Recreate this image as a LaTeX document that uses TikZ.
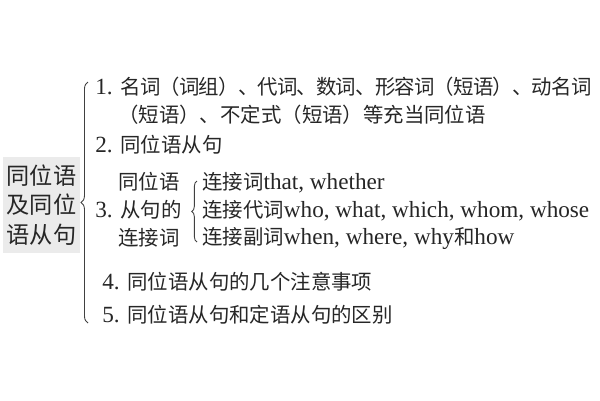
\documentclass[tikz,border=0pt]{standalone}
\usepackage{fontspec}
\setmainfont{Liberation Serif}
\newfontfamily\cjk[Scale=0.88]{Noto Sans CJK SC}
\newfontfamily\cjktight[Scale=0.88,LetterSpace=-4]{Noto Sans CJK SC}
\newcommand\zh[1]{{\cjk #1}}
\usetikzlibrary{decorations.pathreplacing}

\begin{document}
\begin{tikzpicture}
[x=0.02cm,y=-0.02cm
,lbl/.style={anchor=west,inner sep=0pt,text height=10.2pt,text depth=1.4pt,text=black!85}
,hd/.style={fill=black!8,text=black!85,align=center,inner sep=0pt,minimum width=1.54cm,minimum height=1.92cm,font=\fontsize{15}{16.7}\selectfont}
,br/.style={decorate,decoration={brace,amplitude=#1},line width=0.5pt,black!75}
,font=\fontsize{13.2}{16}\selectfont]
\useasboundingbox (0,0) rectangle (600,400);
\node[hd] (root) at (41.5,205) {\zh{同位语}\\\zh{及同位}\\\zh{语从句}};
\node[lbl] (i1) at (95,87) {1. {\cjktight 名词（词组）、代词、数词、形容词（短语）、动名词}};
\node[lbl] (i1b) at (118,115) {\zh{（短语）、不定式（短语）等充当同位语}};
\node[lbl] (i2) at (95,145) {2. \zh{同位语从句}};
\node[lbl] (i3a) at (118,182) {\zh{同位语}};
\node[lbl] (i3) at (95,210) {3. \zh{从句的}};
\node[lbl] (i3c) at (118,238) {\zh{连接词}};
\node[lbl] (s1) at (202,182) {\zh{连接词}that, whether};
\node[lbl] (s2) at (202,210) {\zh{连接代词}who, what, which, whom, whose};
\node[lbl] (s3) at (202,237) {\zh{连接副词}when, where, why\zh{和}how};
\node[lbl] (i4) at (102,282) {4. \zh{同位语从句的几个注意事项}};
\node[lbl] (i5) at (102,315) {5. \zh{同位语从句和定语从句的区别}};
\coordinate (b1top) at (88,82);
\coordinate (b1bot) at (88,323);
\coordinate (b2top) at (197,181);
\coordinate (b2bot) at (197,242);
\draw[br=4pt] (b1bot) -- (b1top);
\draw[br=3pt] (b2bot) -- (b2top);
\end{tikzpicture}
\end{document}
